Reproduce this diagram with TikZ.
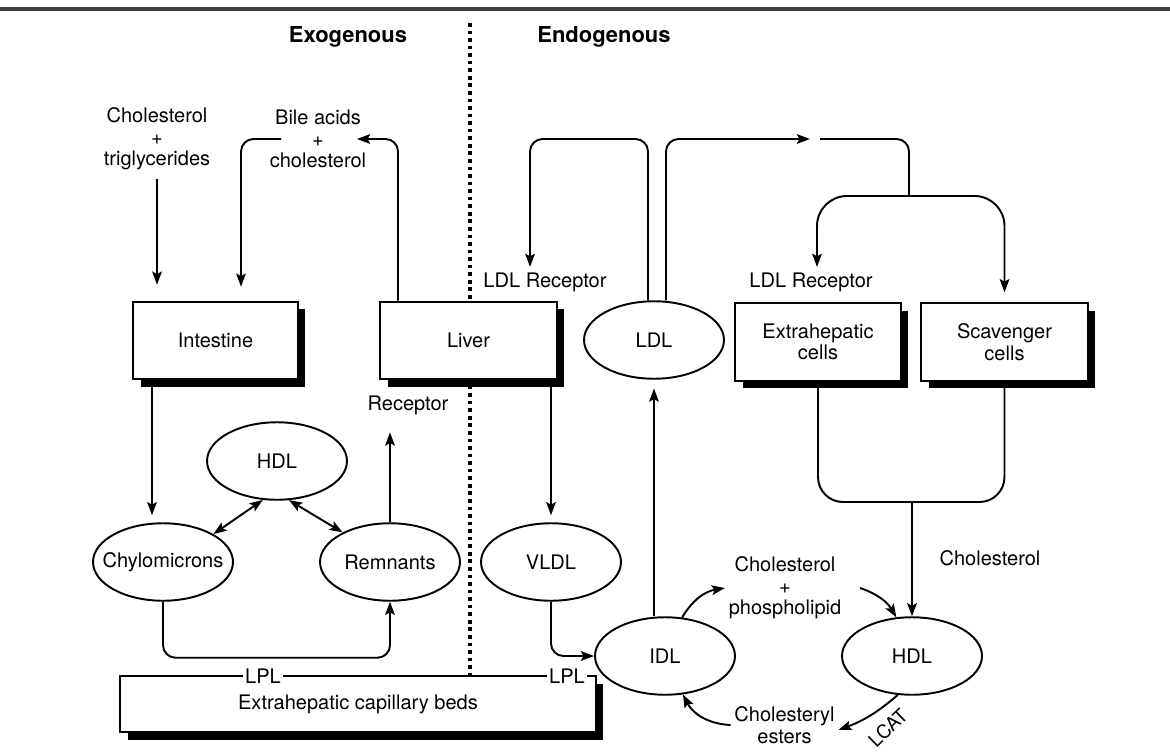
\documentclass[tikz,border=0pt]{standalone}
\usepackage{fontspec}
\setmainfont{TeX Gyre Heros}
\usetikzlibrary{positioning, arrows.meta, shapes.geometric, shadows, calc}
\tikzset{
    lbl/.style={font=\fontsize{11.4}{12.2}\selectfont, align=center, inner sep=2pt},
    hdr/.style={font=\fontsize{12.5}{14}\selectfont\bfseries, inner sep=2pt},
    organ/.style={rectangle, draw, line width=1.2pt, fill=white, minimum height=1.55cm,
        font=\fontsize{11.4}{12.2}\selectfont, align=center,
        drop shadow={shadow xshift=0.15cm, shadow yshift=-0.15cm, fill=black, opacity=1}},
    lipo/.style={ellipse, draw, line width=1.1pt, fill=white, minimum width=2.8cm,
        minimum height=1.55cm, inner xsep=-0.25cm, inner ysep=0pt,
        font=\fontsize{11.4}{12.2}\selectfont},
    flow/.style={line width=1.1pt},
    arr/.style={flow, -{Stealth[length=7.5pt, width=5.5pt, inset=1.5pt]}},
    darr/.style={flow, {Stealth[length=7.5pt, width=5.5pt, inset=1.5pt]}-{Stealth[length=7.5pt, width=5.5pt, inset=1.5pt]}},
    divider/.style={line width=2.1pt, dash pattern=on 2.1pt off 2.2pt}
}
\begin{document}
\begin{tikzpicture}[x=0.02cm, y=-0.02cm]
    \useasboundingbox (0,0) rectangle (1170,751);
    \draw[line width=2pt, black!75] (0,9) -- (1170,9);
    \draw[divider] (470,23) -- (470,676);

    \node[hdr] (exo) at (348,37) {Exogenous};
    \node[hdr] (endo) at (604,37) {Endogenous};

    % exogenous pathway
    \node[lbl] (chtg) at (157,139) {Cholesterol\\+\\triglycerides};
    \node[lbl] (bile) at (318,139) {Bile acids\\+\\cholesterol};
    \node[organ, minimum width=3.3cm] (intestine) at (215.5,340.5) {Intestine};
    \node[organ, minimum width=3.54cm] (liver) at (468.5,340.5) {Liver};
    \node[lbl] (receptor) at (408,405) {Receptor};
    \node[lipo] (hdlL) at (277,461) {HDL};
    \node[lipo] (chylo) at (163,562) {Chylomicrons};
    \node[lipo] (remn) at (390,562) {Remnants};

    % endogenous pathway
    \node[lbl] (ldlrecL) at (545,282) {LDL Receptor};
    \node[lbl] (ldlrecR) at (811,282) {LDL Receptor};
    \node[lipo] (ldl) at (654,340) {LDL};
    \node[organ, minimum width=3.32cm] (extra) at (818,342) {Extrahepatic\\cells};
    \node[organ, minimum width=3.34cm] (scav) at (1004.5,342) {Scavenger\\cells};
    \node[lipo] (vldl) at (551,562) {VLDL};
    \node[lipo] (idl) at (665,656) {IDL};
    \node[lipo] (hdlR) at (912,656) {HDL};
    \node[lbl] (cholphos) at (785,588) {Cholesterol\\+\\phospholipid};
    \node[lbl] (cholR) at (990,558) {Cholesterol};
    \node[lbl] (chesters) at (784.5,725) {Cholesteryl\\esters};
    \node[lbl, font=\fontsize{10.8}{12}\selectfont, rotate=44, inner sep=0pt] (lcat) at (888,728) {LCAT};

    % capillary beds with LPL on its top edge
    \node[organ, minimum width=9.52cm, minimum height=1.12cm] (beds) at (358,704) {Extrahepatic capillary beds};
    \node[lbl, fill=white, inner sep=1pt] (lpl1) at (263,676) {LPL};
    \node[lbl, fill=white, inner sep=1pt] (lpl2) at (567,676) {LPL};

    \coordinate (gapin) at (810,139);
    \coordinate (gapout) at (820,139);
    \coordinate (split) at (909,196);
    \coordinate (merge) at (912,502);

    \draw[arr, shorten <=3pt, shorten >=0.32cm] (chtg.south) -- (chtg.south |- intestine.north);
    \draw[arr, rounded corners=0.25cm] ([xshift=-0.74cm]bile.center) -| ([xshift=0.51cm, yshift=0.28cm]intestine.north);
    \draw[arr, rounded corners=0.25cm] ([xshift=-1.41cm]liver.north) |- ([xshift=0.78cm]bile.center);
    \draw[arr, shorten >=4pt] ([xshift=-0.22cm]chylo.north |- intestine.south) -- ([xshift=-0.22cm]chylo.north);
    \draw[darr] (chylo.29) -- (hdlL.250);
    \draw[darr] (hdlL.287) -- (remn.148);
    \draw[arr, rounded corners=0.25cm] (chylo.south) -- ++(0,56) -| (remn.south);
    \draw[arr, shorten >=8pt] (remn.north) -- (remn.north |- receptor.south);

    \draw[arr, shorten >=4pt] (liver.south -| vldl.north) -- (vldl.north);
    \draw[arr, rounded corners=0.25cm] (vldl.south) |- (idl.west);
    \draw[arr, shorten >=5pt] (idl.north -| ldl.south) -- (ldl.south);
    \draw[arr, rounded corners=0.25cm, shorten >=1pt] ([xshift=-0.12cm]ldl.north) |- ([xshift=-0.3cm]ldlrecL.north |- gapin) -- ([xshift=-0.3cm]ldlrecL.north);
    \draw[arr, rounded corners=0.25cm] ([xshift=0.24cm]ldl.north) |- (gapin);
    \draw[flow, rounded corners=0.25cm] (gapout) -| (split);
    \draw[arr, rounded corners=0.6cm, shorten >=1pt] (split) -| ([xshift=0.12cm]ldlrecR.north);
    \draw[arr, rounded corners=0.6cm, shorten >=0.2cm] (split) -| (scav.north);
    \draw[flow, rounded corners=0.5cm] (extra.south) |- (merge);
    \draw[flow, rounded corners=0.5cm] (scav.south) |- (merge);
    \draw[arr] (merge) -- (hdlR.north);

    \draw[arr] (idl.66) to[bend left=25] (cholphos.west);
    \draw[arr] ([xshift=0.3cm]cholphos.east) to[bend left=20] (hdlR.112);
    \draw[arr] (hdlR.250) to[bend left=10] ([yshift=-0.1cm]chesters.east);
    \draw[arr] (chesters.west) to[bend left=30] (idl.295);
\end{tikzpicture}
\end{document}
